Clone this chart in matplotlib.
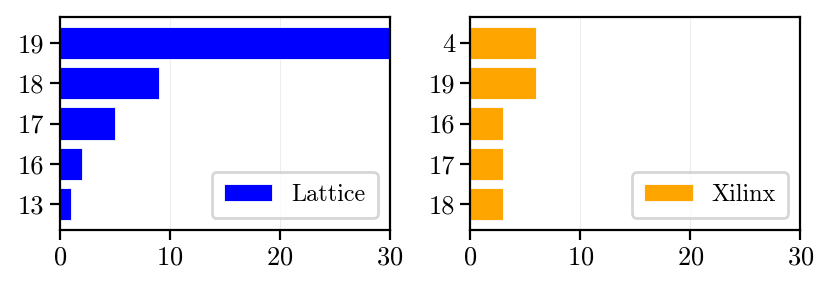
import matplotlib
matplotlib.use("Agg")
import matplotlib.pyplot as plt

lattice_labels = ["19", "18", "17", "16", "13"]
lattice_values = [30, 9, 5, 2, 1]
xilinx_labels = ["4", "19", "16", "17", "18"]
xilinx_values = [6, 6, 3, 3, 3]
x_ticks = [0, 10, 20, 30]

plt.rcParams["font.family"] = "serif"
plt.rcParams["font.serif"] = ["cmr10"]
plt.rcParams["mathtext.fontset"] = "cm"
plt.rcParams["axes.formatter.use_mathtext"] = True
plt.rcParams["font.size"] = 9.5

fig = plt.figure(figsize=(4.155, 1.44), dpi=200)
ax1 = fig.add_axes([0.072, 0.201, 0.397, 0.740])
ax2 = fig.add_axes([0.566, 0.201, 0.397, 0.740])

for ax, labels, values, color, name in [
    (ax1, lattice_labels, lattice_values, "blue", "Lattice"),
    (ax2, xilinx_labels, xilinx_values, "orange", "Xilinx"),
]:
    pos = list(range(len(labels)))
    ax.barh(pos, values, height=0.8, color=color, edgecolor="white",
            linewidth=0.3, label=name, zorder=2)
    ax.set_yticks(pos)
    ax.set_yticklabels(labels)
    ax.invert_yaxis()
    ax.set_xlim(0, 30)
    ax.set_xticks(x_ticks)
    ax.grid(axis="x", color="#ededed", linewidth=0.4, zorder=0)
    ax.set_axisbelow(True)
    for s in ax.spines.values():
        s.set_linewidth(0.8)
    ax.tick_params(width=0.8, length=3.5, pad=2)
    ax.legend(loc="lower right", fancybox=True, framealpha=0.8,
              handlelength=2.0, borderpad=0.5, fontsize=8.7)

fig.savefig("out.png", dpi=200)
